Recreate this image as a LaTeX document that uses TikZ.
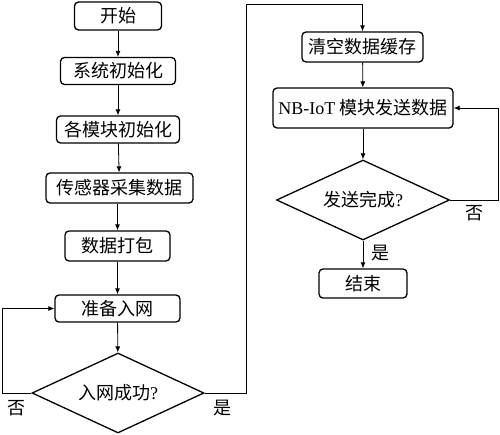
\documentclass[tikz,border=0pt]{standalone}
\usepackage{fontspec}
\setmainfont{Liberation Serif}
\newfontfamily\cjk{Noto Sans CJK SC}
\usetikzlibrary{shapes.geometric,arrows.meta}
\begin{document}
\begin{tikzpicture}[x=1pt,y=-1pt,
  stepbox/.style={draw,line width=1.3pt,rounded corners=4pt,minimum height=28pt,inner sep=0pt,font=\fontsize{18}{21}\selectfont\cjk},
  decision/.style={draw,line width=1.3pt,diamond,aspect=2.15,minimum width=172pt,minimum height=80pt,inner sep=0pt,font=\fontsize{18}{21}\selectfont\cjk},
  lbl/.style={font=\fontsize{18}{21}\selectfont\cjk,inner sep=0pt},
  arr/.style={line width=0.8pt,-{Latex[length=6pt,width=5pt]}},
  ln/.style={line width=0.8pt}]
\useasboundingbox (0,0) rectangle (500,434);
% left column
\node[stepbox,minimum width=87pt] (start) at (118,16) {开始};
\node[stepbox,minimum width=115pt,minimum height=27pt] (sys) at (118,71) {系统初始化};
\node[stepbox,minimum width=123pt,minimum height=27pt] (mod) at (118,129.5) {各模块初始化};
\node[stepbox,minimum width=147pt,minimum height=30pt] (sens) at (119.5,188) {传感器采集数据};
\node[stepbox,minimum width=105pt,minimum height=30pt] (pack) at (117.5,246) {数据打包};
\node[stepbox,minimum width=125pt,minimum height=27pt] (prep) at (117.5,308.5) {准备入网};
\node[decision] (d1) at (118,393) {入网成功{\rmfamily ?}};
% right column
\node[stepbox,minimum width=121pt,minimum height=30pt] (clear) at (362.5,47) {清空数据缓存};
\node[stepbox,minimum width=180pt,minimum height=40pt] (send) at (363,108) {{\rmfamily NB-IoT} 模块发送数据};
\node[decision,minimum width=173pt] (d2) at (363,200) {发送完成{\rmfamily ?}};
\node[stepbox,minimum width=88pt,minimum height=29pt] (end) at (363,283.5) {结束};
% connectors
\draw[arr] (start) -- (sys);
\draw[arr] (sys) -- (mod);
\draw[arr] (mod) -- (sens);
\draw[arr] (sens.south -| pack.north) -- (pack);
\draw[arr] (pack) -- (prep);
\draw[arr] (prep) -- (d1);
\coordinate (lx) at (2,393);
\draw[arr] (d1.west) -- (lx) |- (prep.west);
\coordinate (rb) at (246,393);
\coordinate (rt) at (246,4);
\draw[arr] (d1.east) -- (rb) -- (rt) -| (clear.north);
\draw[arr] (clear) -- (send);
\draw[arr] (send) -- (d2);
\coordinate (sx) at (498,200);
\draw[arr] (d2.east) -- (sx) |- (send.east);
\draw[arr] (d2.south) -- (end.north);
% labels
\node[lbl] (no1) at (17,408) {否};
\node[lbl] (yes1) at (222,408) {是};
\node[lbl] (no2) at (474,213) {否};
\node[lbl] (yes2) at (380,253) {是};
\end{tikzpicture}
\end{document}
